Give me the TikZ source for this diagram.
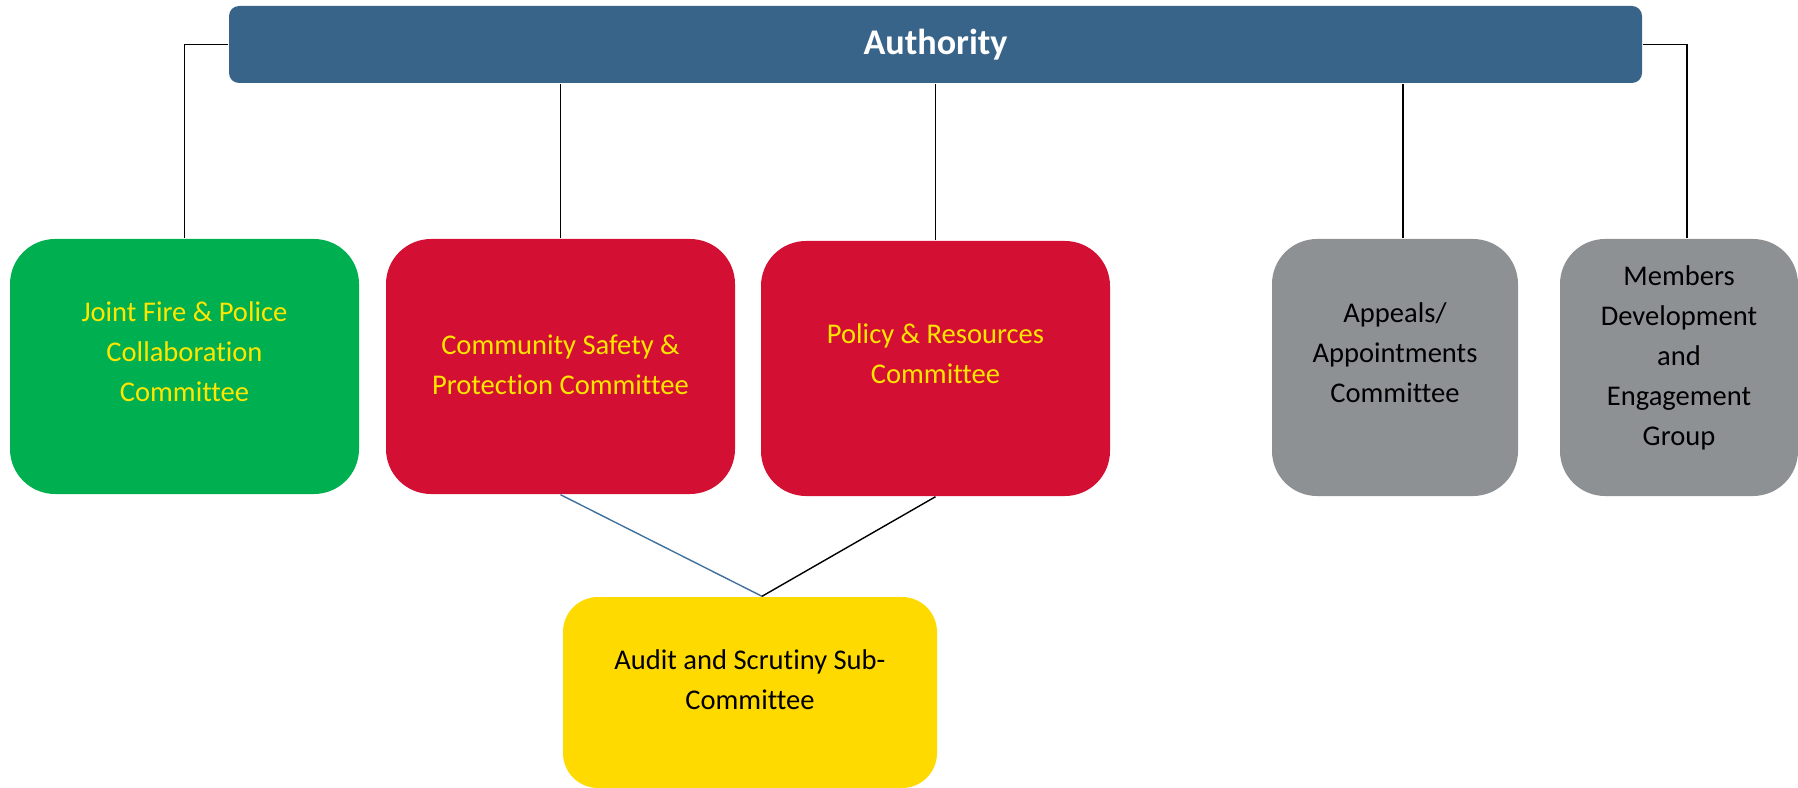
\documentclass[tikz,border=0pt]{standalone}
\usepackage{fontspec}
\setmainfont{Carlito}[Ligatures=NoCommon]
\usetikzlibrary{calc}
\newlength\pxu
\setlength\pxu{0.025cm}
\definecolor{authblue}{RGB}{56,100,138}
\definecolor{jointgreen}{RGB}{0,176,80}
\definecolor{cttered}{RGB}{211,16,52}
\definecolor{cttegrey}{RGB}{142,145,148}
\definecolor{auditgold}{RGB}{255,218,0}
\definecolor{labelyellow}{RGB}{255,230,0}
\definecolor{linkblue}{RGB}{65,113,156}

\begin{document}
\begin{tikzpicture}[x=0.025cm,y=-0.025cm,line width=1pt,
        box/.style={rounded corners=45\pxu,inner sep=0pt,minimum width=349\pxu,minimum height=255\pxu},
        txt/.style={align=center,font=\fontsize{20.3}{28.5}\selectfont}]
                \useasboundingbox (0,0) rectangle (1798,788);
                \node[fill=authblue,rounded corners=10\pxu,minimum width=1413\pxu,minimum height=77\pxu,
                    text=white,font=\fontsize{25.7}{30}\selectfont\bfseries] (auth) at (935.5,44.5) {Authority};
                \node[box,fill=jointgreen] (joint) at (184.5,366.5) {};
                \node[box,fill=cttered] (comm) at (560.5,366.5) {};
                \node[box,fill=cttered] (pol) at (935.5,368.5) {};
                \node[box,fill=cttegrey,minimum width=246\pxu,minimum height=257\pxu] (appl) at (1395,367.5) {};
                \node[box,fill=cttegrey,minimum width=238\pxu,minimum height=257\pxu] (memb) at (1679,367.5) {};
                \node[box,fill=auditgold,rounded corners=35\pxu,minimum width=374\pxu,minimum height=191\pxu] (audit) at (750,692.5) {};
                % texts sit a little above the middle of their boxes
                \node[txt,text=labelyellow] (joint-t) at ($(joint)+(0,-15)$) {Joint Fire \& Police\\Collaboration\\Committee};
                \node[txt,text=labelyellow] (comm-t) at ($(comm)+(0,-1.5)$) {Community Safety \&\\Protection Committee};
                \node[txt,text=labelyellow] (pol-t) at ($(pol)+(0,-15)$) {Policy \& Resources\\Committee};
                \node[txt] (appl-t) at ($(appl)+(0,-15)$) {Appeals/\\Appointments\\Committee};
                \node[txt] (memb-t) at ($(memb)+(0,-9.5)$) {Members\\Development\\and\\Engagement\\Group};
                \node[txt] (audit-t) at ($(audit)+(0,-12.5)$) {Audit and Scrutiny Sub-\\Committee};
                \draw (auth.west) -| (joint.north);
                \draw (auth.east) -| ([xshift=8\pxu]memb.north);
                \draw (comm.north) -- (comm.north |- auth.south);
                \draw (pol.north) -- (pol.north |- auth.south);
                \draw ([xshift=8\pxu]appl.north) -- ([xshift=8\pxu]appl.north |- auth.south);
                \coordinate (apex) at ([xshift=12\pxu]audit.north);
                \draw[linkblue] (comm.south) -- (apex);
                \draw (pol.south) -- (apex);
            \end{tikzpicture}
\end{document}
